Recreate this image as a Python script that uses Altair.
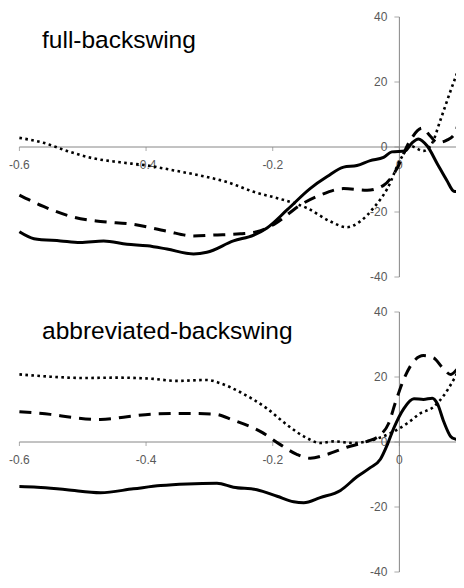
import altair as alt
import pandas as pd

# ---------------- data ----------------
X_MIN, X_MAX = -0.618, 0.0894
PANEL_Y = [-42.46, 42.77]

x_ticks = [-0.6, -0.4, -0.2, 0.0]
x_tick_labels = ["-0.6", "-0.4", "-0.2", "0"]
y_ticks = [40, 20, 0, -20, -40]
y_tick_labels = ["40", "20", "0", "-20", "-40"]

panel_titles = ["full-backswing", "abbreviated-backswing"]

# full-backswing
full_solid_x = [-0.6, -0.577, -0.535, -0.504, -0.467, -0.430, -0.398, -0.367, -0.325, -0.304, -0.262, -0.230, -0.209,
                -0.177, -0.141, -0.114, -0.088, -0.067, -0.046, -0.025, -0.012, 0.009, 0.020, 0.030, 0.044, 0.060,
                0.075, 0.086, 0.096, 0.103]
full_solid_y = [-26.1, -28.2, -28.9, -29.4, -28.9, -29.9, -30.4, -31.4, -32.9, -32.4, -28.9, -27.1, -24.9,
                -19.3, -12.8, -9.1, -6.2, -5.7, -4.2, -3.2, -1.5, -1.2, 1.3, 2.5, 0.3, -5.2,
                -10.3, -13.6, -13.8, -12.8]

full_dash_x = [-0.6, -0.562, -0.514, -0.472, -0.420, -0.367, -0.325, -0.293, -0.251, -0.225, -0.198, -0.156, -0.125,
               -0.088, -0.051, -0.025, -0.004, 0.015, 0.036, 0.049, 0.060, 0.075, 0.088, 0.096, 0.103]
full_dash_y = [-14.8, -18.3, -21.6, -22.9, -23.8, -25.9, -27.4, -27.1, -26.7, -26.1, -23.8, -17.8, -14.8,
               -12.8, -13.3, -11.8, -6.7, 1.3, 5.8, 3.3, 1.3, 2.1, 4.3, 9.4, 13.4]

full_dot_x = [-0.6, -0.562, -0.525, -0.483, -0.441, -0.398, -0.356, -0.314, -0.272, -0.230, -0.188, -0.146, -0.109,
              -0.083, -0.062, -0.041, -0.019, 0.002, 0.017, 0.038, 0.052, 0.065, 0.081, 0.094, 0.103]
full_dot_y = [2.8, 1.3, -1.2, -3.5, -4.7, -5.7, -7.2, -8.8, -10.8, -13.8, -16.0, -18.8, -22.9,
              -24.7, -22.9, -18.8, -12.8, -3.7, 0.3, -1.2, 1.3, 8.4, 17.4, 24.5, 30.5]

# abbreviated-backswing
abbr_solid_x = [-0.6, -0.572, -0.525, -0.472, -0.420, -0.377, -0.335, -0.288, -0.262, -0.225, -0.193, -0.167, -0.151,
                -0.125, -0.093, -0.067, -0.046, -0.030, -0.019, -0.009, 0.007, 0.023, 0.038, 0.052, 0.060, 0.070,
                0.081, 0.094, 0.103]
abbr_solid_y = [-13.7, -13.9, -14.7, -15.6, -14.4, -13.4, -12.9, -12.7, -13.9, -14.7, -16.7, -18.4, -18.7,
                -17.1, -14.9, -10.7, -7.9, -5.3, -0.8, 4.2, 10.3, 13.3, 13.1, 13.5, 11.8, 6.3,
                1.7, 0.2, -5.3]

abbr_dash_x = [-0.6, -0.551, -0.514, -0.472, -0.430, -0.388, -0.335, -0.293, -0.262, -0.219, -0.188, -0.162, -0.141,
               -0.114, -0.083, -0.051, -0.030, -0.017, -0.006, 0.007, 0.023, 0.038, 0.054, 0.070, 0.081, 0.094, 0.103]
abbr_dash_y = [9.3, 8.5, 7.5, 6.9, 7.8, 8.6, 8.8, 8.6, 6.7, 3.2, -0.8, -3.8, -5.0,
               -3.8, -1.6, 0.2, 2.2, 5.7, 12.3, 19.3, 24.9, 26.6, 25.9, 22.4, 20.8, 22.9, 23.9]

abbr_dot_x = [-0.6, -0.551, -0.499, -0.446, -0.393, -0.351, -0.304, -0.283, -0.251, -0.209, -0.177, -0.146, -0.125,
              -0.104, -0.072, -0.051, -0.030, -0.009, 0.012, 0.033, 0.054, 0.070, 0.086, 0.103]
abbr_dot_y = [20.8, 20.1, 19.7, 19.8, 19.5, 18.8, 19.1, 18.1, 15.3, 10.3, 5.2, 1.2, -0.3,
              0.2, -0.3, 0.2, 1.4, 3.2, 5.7, 8.8, 10.8, 14.3, 19.3, 25.9]

FONT = "Liberation Sans"
AXIS_COLOR = "#868686"
LABEL_COLOR = "#595959"

xscale = alt.Scale(domain=[X_MIN, X_MAX], nice=False, zero=False)


def series_df(xs, ys):
    return pd.DataFrame({"x": xs, "y": ys})


def panel(title, solid, dash, dot, title_y, ydomain, height):
    yscale = alt.Scale(domain=ydomain, nice=False, zero=False)
    X = alt.X("x:Q", scale=xscale, axis=None)
    Y = alt.Y("y:Q", scale=yscale, axis=None)

    xaxis = alt.Chart(pd.DataFrame({"x": [x_ticks[0]], "x2": [X_MAX], "y": [0]})).mark_rule(
        color=AXIS_COLOR, strokeWidth=1, clip=True).encode(x=X, x2="x2:Q", y=Y)
    yaxis = alt.Chart(pd.DataFrame({"x": [0], "y": [y_ticks[-1]], "y2": [y_ticks[0]]})).mark_rule(
        color=AXIS_COLOR, strokeWidth=1, clip=True).encode(x=X, y=Y, y2="y2:Q")
    xt = alt.Chart(pd.DataFrame({"x": x_ticks, "y": [0] * len(x_ticks)})).mark_tick(
        orient="vertical", size=4, thickness=1, yOffset=2, color=AXIS_COLOR, clip=True).encode(x=X, y=Y)
    yt = alt.Chart(pd.DataFrame({"x": [0] * len(y_ticks), "y": y_ticks})).mark_tick(
        orient="horizontal", size=5, thickness=1, xOffset=-2.5, color=AXIS_COLOR, clip=True).encode(x=X, y=Y)
    xl = alt.Chart(pd.DataFrame({"x": x_ticks, "y": [0] * len(x_ticks), "t": x_tick_labels})).mark_text(
        font=FONT, fontSize=12, color=LABEL_COLOR, dy=18, baseline="middle", align="center").encode(
        x=X, y=Y, text="t:N")
    yl = alt.Chart(pd.DataFrame({"x": [0] * len(y_ticks), "y": y_ticks, "t": y_tick_labels})).mark_text(
        font=FONT, fontSize=12, color=LABEL_COLOR, dx=-12, baseline="middle", align="right").encode(
        x=X, y=Y, text="t:N")

    l_solid = alt.Chart(series_df(*solid)).mark_line(
        color="black", strokeWidth=3, interpolate="monotone", clip=True).encode(x=X, y=Y)
    l_dash = alt.Chart(series_df(*dash)).mark_line(
        color="black", strokeWidth=3, strokeDash=[12, 8], interpolate="monotone", clip=True).encode(x=X, y=Y)
    l_dot = alt.Chart(series_df(*dot)).mark_line(
        color="black", strokeWidth=2.6, strokeDash=[2.6, 3.4], interpolate="monotone", clip=True).encode(x=X, y=Y)

    ttl = alt.Chart(pd.DataFrame({"t": [title]})).mark_text(
        font=FONT, fontSize=24.5, color="black", align="left", baseline="alphabetic").encode(
        x=alt.value(34), y=alt.value(title_y), text="t:N")

    return alt.layer(xaxis, yaxis, xt, yt, xl, yl, l_dot, l_dash, l_solid, ttl).properties(
        width=448, height=height)


top = panel(panel_titles[0], (full_solid_x, full_solid_y), (full_dash_x, full_dash_y),
            (full_dot_x, full_dot_y), 39.7, PANEL_Y, 277)
bottom = panel(panel_titles[1], (abbr_solid_x, abbr_solid_y), (abbr_dash_x, abbr_dash_y),
               (abbr_dot_x, abbr_dot_y), 36.0, PANEL_Y, 277)

chart = alt.vconcat(top, bottom, spacing=18, padding=0).configure(
    background="white").configure_view(stroke=None)

chart.save("out.html", embed_options={"renderer": "svg", "actions": False})
